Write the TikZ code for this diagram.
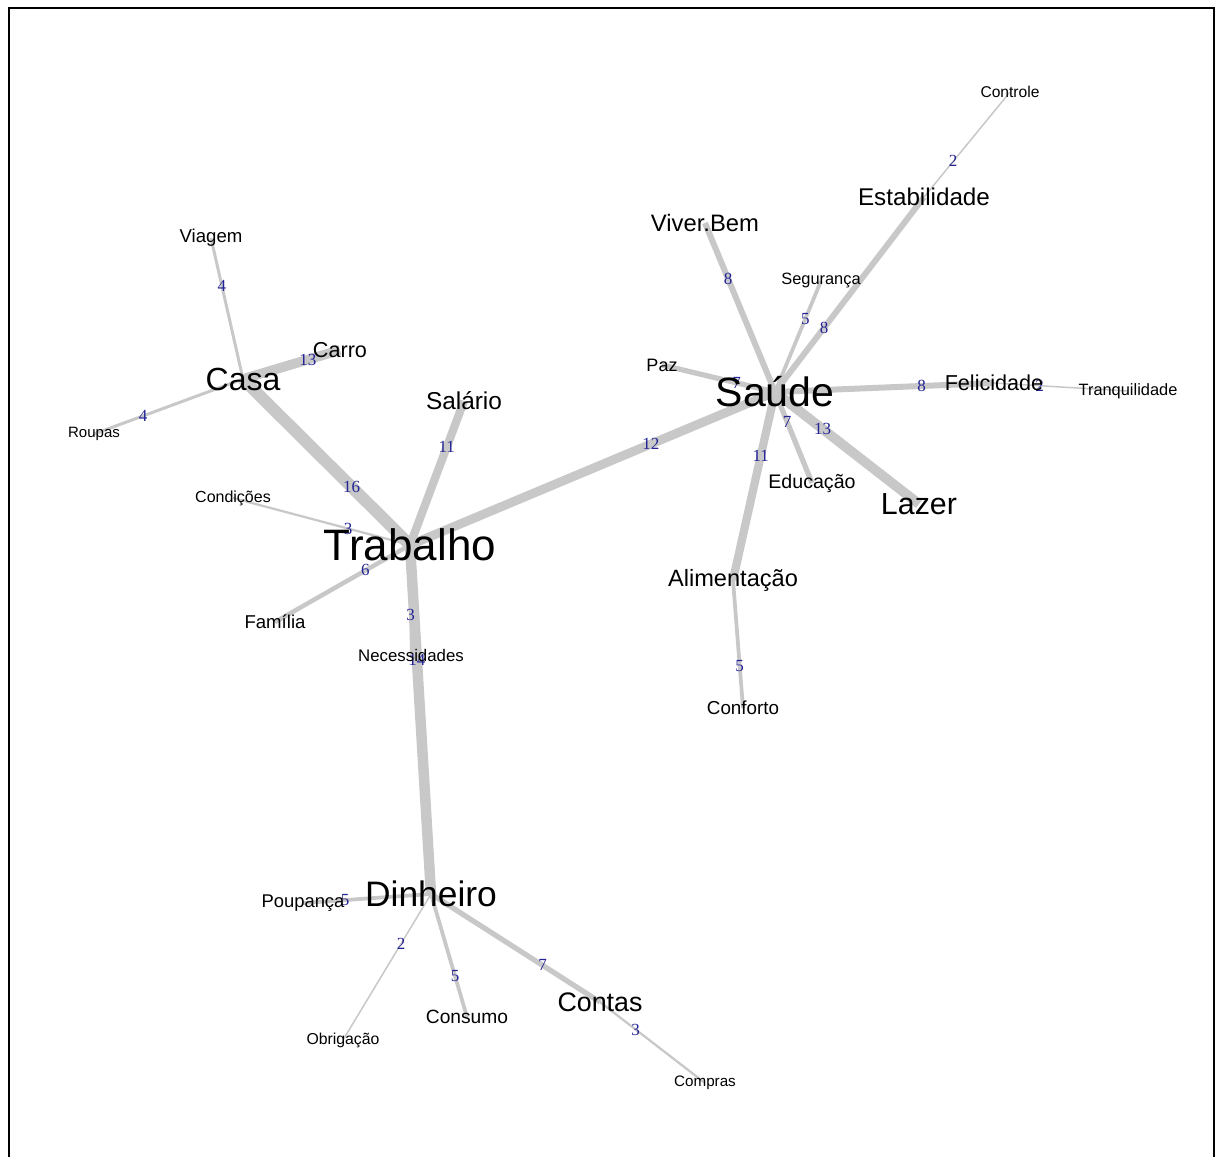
\documentclass[tikz,border=0pt]{standalone}
\usepackage{fontspec}
\setmainfont{Liberation Sans}
\newfontfamily\numfont{Liberation Serif}
\usepackage{xcolor}
\usetikzlibrary{backgrounds}
\definecolor{tiegray}{RGB}{200,200,200}
\definecolor{numblue}{RGB}{35,35,150}
\tikzset{
  word/.style={font=\fontsize{#1}{#1}\selectfont, inner sep=0pt},
  tie/.style={draw=tiegray, line width={0.375pt*#1}},
  wlab/.style={font=\numfont\fontsize{8.5}{8.5}\selectfont, text=numblue, inner sep=0pt}
}

\begin{document}
\begin{tikzpicture}[x=0.5pt, y=-0.5pt]
    \useasboundingbox (0,0) rectangle (1216,1157);
    \draw[line width=1pt] (9,1157) -- (9,8) -- (1214,8) -- (1214,1157);

    % main words
    \node[word=22] (trab) at (410,545) {Trabalho};
    \node[word=20.5] (saude) at (775,392) {Saúde};
    \node[word=17.7] (din) at (431,894) {Dinheiro};
    \node[word=16] (casa) at (243,379) {Casa};
    \node[word=15.2] (lazer) at (919,504) {Lazer};
    \node[word=13.4] (contas) at (600,1002) {Contas};
    \node[word=12.1] (estab) at (924,197) {Estabilidade};
    \node[word=11.8] (alim) at (733,580) {Alimentação};
    \node[word=11.9] (viver) at (705,223) {Viver.Bem};
    \node[word=12.2] (salario) at (464,401) {Salário};
    \node[word=10.8] (felic) at (994,383) {Felicidade};
    \node[word=10.8] (carro) at (340,350) {Carro};
    \node[word=9.8] (educ) at (812,483) {Educação};
    \node[word=9.4] (conforto) at (743,708) {Conforto};
    \node[word=9.6] (consumo) at (467,1017) {Consumo};
    \node[word=9.2] (poup) at (303,903) {Poupança};
    \node[word=9.3] (familia) at (275,622) {Família};
    \node[word=9.3] (viagem) at (211,238) {Viagem};
    \node[word=9] (paz) at (662,365) {Paz};
    \node[word=8.4] (necess) at (411,655) {Necessidades};
    \node[word=8] (cond) at (233,498) {Condições};
    \node[word=8.2] (seg) at (821,281) {Segurança};
    \node[word=8.2] (tranq) at (1128,391) {Tranquilidade};
    \node[word=7.8] (controle) at (1010,92) {Controle};
    \node[word=7.5] (roupas) at (94,434) {Roupas};
    \node[word=7.9] (obrig) at (343,1040) {Obrigação};
    \node[word=7.6] (compras) at (705,1083) {Compras};

    % weighted ties, under the words
    \begin{scope}[on background layer]
    \foreach \a/\b/\w/\p in {casa/viagem/4/0.66, casa/carro/13/0.67, casa/roupas/4/0.67,
        casa/trab/16/0.65, trab/salario/11/0.68, trab/cond/3/0.35, trab/familia/6/0.33,
        trab/din/14/0.33, trab/necess/3/0.64, trab/saude/12/0.66,
        din/poup/5/0.67, din/obrig/2/0.34, din/consumo/5/0.67, din/contas/7/0.66,
        contas/compras/3/0.34, saude/viver/8/0.67, saude/seg/5/0.66, saude/estab/8/0.33,
        estab/controle/2/0.34, saude/paz/7/0.34, saude/felic/8/0.67, felic/tranq/2/0.34,
        saude/educ/7/0.33, saude/lazer/13/0.33, saude/alim/11/0.34, alim/conforto/5/0.67}
        \draw[tie=\w] (\a.center) -- node[wlab, pos=\p] {\w} (\b.center);
    \end{scope}
\end{tikzpicture}
\end{document}
